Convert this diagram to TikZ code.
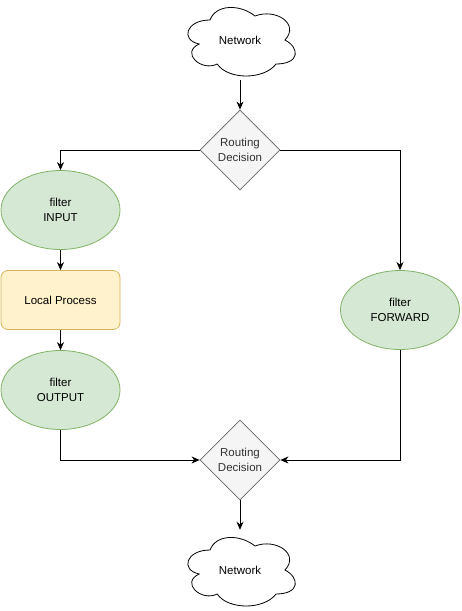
\documentclass[tikz,border=0pt]{standalone}
\usepackage{fontspec}
\setmainfont{Liberation Sans}
\usetikzlibrary{shapes.geometric,arrows.meta}
\definecolor{gfill}{HTML}{D5E8D4}
\definecolor{gline}{HTML}{82B366}
\definecolor{yfill}{HTML}{FFF2CC}
\definecolor{yline}{HTML}{D6B656}
\definecolor{dfill}{HTML}{F5F5F5}
\definecolor{dline}{HTML}{666666}
\definecolor{dtext}{HTML}{333333}
\tikzset{
  txt/.style={font=\fontsize{11.5}{15}\selectfont, align=center, text=black},
  filterbox/.style={txt, ellipse, draw=gline, fill=gfill, line width=0.8pt, minimum width=119pt, minimum height=79pt, inner sep=0pt},
  procbox/.style={txt, rectangle, rounded corners=7pt, draw=yline, fill=yfill, line width=0.8pt, minimum width=119pt, minimum height=59pt, inner sep=0pt},
  decision/.style={txt, text=dtext, diamond, aspect=1, draw=dline, fill=dfill, line width=0.8pt, minimum width=80pt, minimum height=80pt, inner sep=0pt},
  cloudbox/.style={txt, rectangle, minimum width=120pt, minimum height=80pt, inner sep=0pt},
  conn/.style={line width=0.8pt, -{Stealth[length=8pt,width=7pt,inset=2.5pt]}},
}
\newcommand{\cloudpath}[2]{% #1 = x0, #2 = y0 (top-left), w=120, h=80
  \draw[line width=0.8pt, fill=white]
    ({#1+0.25*120},{#2+0.25*80})
    .. controls ({#1+0.05*120},{#2+0.25*80}) and ({#1},{#2+0.5*80}) .. ({#1+0.16*120},{#2+0.55*80})
    .. controls ({#1},{#2+0.66*80}) and ({#1+0.18*120},{#2+0.9*80}) .. ({#1+0.31*120},{#2+0.8*80})
    .. controls ({#1+0.4*120},{#2+80}) and ({#1+0.7*120},{#2+80}) .. ({#1+0.8*120},{#2+0.8*80})
    .. controls ({#1+120},{#2+0.8*80}) and ({#1+120},{#2+0.6*80}) .. ({#1+0.875*120},{#2+0.5*80})
    .. controls ({#1+120},{#2+0.3*80}) and ({#1+0.8*120},{#2+0.1*80}) .. ({#1+0.625*120},{#2+0.2*80})
    .. controls ({#1+0.5*120},{#2+0.05*80}) and ({#1+0.3*120},{#2+0.05*80}) .. ({#1+0.25*120},{#2+0.25*80})
    -- cycle;}
\begin{document}
\begin{tikzpicture}[x=1pt,y=-1pt]
  \useasboundingbox[fill=white] (0,0) rectangle (461,611);
  \cloudpath{180}{0}
  \cloudpath{180}{530}
  \node[cloudbox] (net1) at (240,40) {Network};
  \node[cloudbox] (net2) at (240,570) {Network};
  \node[decision] (d1) at (240,150) {Routing\\Decision};
  \node[decision] (d2) at (240,460) {Routing\\Decision};
  \node[filterbox] (in) at (60.5,210) {filter\\INPUT};
  \node[procbox] (lp) at (60.5,300) {Local Process};
  \node[filterbox] (out) at (60.5,390) {filter\\OUTPUT};
  \node[filterbox] (fwd) at (400,310) {filter\\FORWARD};

  \draw[conn] (net1.south) -- (d1.north);
  \draw[conn] (d1.west) -| (in.north);
  \draw[conn] (d1.east) -| (fwd.north);
  \draw[conn] (in.south) -- (lp.north);
  \draw[conn] (lp.south) -- (out.north);
  \draw[conn] (out.south) |- (d2.west);
  \draw[conn] (fwd.south) |- (d2.east);
  \draw[conn] (d2.south) -- (net2.north);
\end{tikzpicture}
\end{document}
